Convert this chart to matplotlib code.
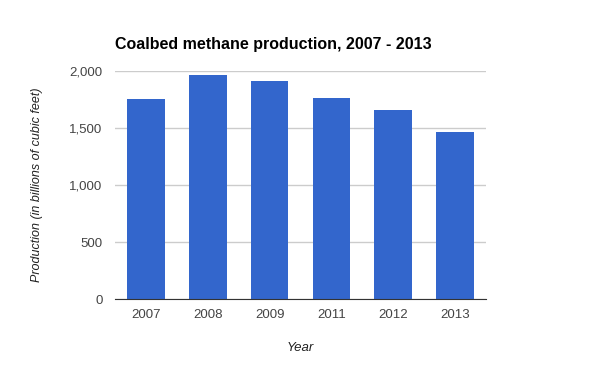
import matplotlib.pyplot as plt
from matplotlib.ticker import FuncFormatter

# Данные
years = ['2007', '2008', '2009', '2011', '2012', '2013']
production = [1754, 1966, 1914, 1763, 1655, 1466]

plt.rcParams['font.family'] = ['Liberation Sans', 'DejaVu Sans']

fig = plt.figure(figsize=(6, 3.71), dpi=100)
ax = fig.add_axes([0.1917, 0.194, 0.6183, 0.6146])

x = range(len(years))
ax.bar(x, production, width=0.61, color='#3366cc', zorder=3)

ax.set_xlim(-0.5, len(years) - 0.5)
ax.set_ylim(0, 2000)
ax.set_yticks([0, 500, 1000, 1500, 2000])
ax.yaxis.set_major_formatter(FuncFormatter(lambda v, p: f'{int(v):,}'))
ax.set_xticks(list(x))
ax.set_xticklabels(years)

ax.grid(axis='y', color='#cccccc', linewidth=1, zorder=0)
for s in ['top', 'right', 'left']:
    ax.spines[s].set_visible(False)
ax.spines['bottom'].set_color('#333333')
ax.spines['bottom'].set_zorder(4)
ax.tick_params(axis='both', length=0, labelsize=9.5, colors='#444444')
ax.tick_params(axis='y', pad=9)
ax.tick_params(axis='x', pad=7)

ax.set_ylabel('Production (in billions of cubic feet)', style='italic',
              fontsize=9, color='#222222', labelpad=19)
ax.set_xlabel('Year', style='italic', fontsize=9.5, color='#222222', labelpad=15)

fig.text(115 / 600, 1 - 45 / 371, 'Coalbed methane production, 2007 - 2013',
         fontsize=11.5, fontweight='bold', color='#000000', va='center', ha='left')

fig.savefig('out.png', dpi=100)
